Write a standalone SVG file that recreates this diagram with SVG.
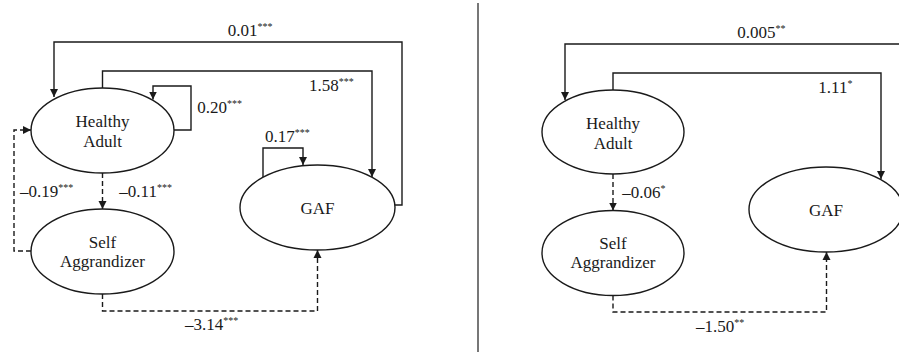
<svg xmlns="http://www.w3.org/2000/svg" width="899" height="352" viewBox="0 0 899 352">
<defs>
<marker id="ah" viewBox="0 0 10 10" refX="10" refY="5" markerWidth="8" markerHeight="9" markerUnits="userSpaceOnUse" orient="auto">
<path d="M0,0 L10,5 L0,10 z" fill="#1a1a1a"/>
</marker>
<style>
.node{fill:#fff;stroke:#1a1a1a;stroke-width:1.4}
.t{font-family:"Liberation Serif","Times New Roman",serif;font-size:17px;fill:#1a1a1a}
.c{text-anchor:middle}
.sup{font-size:10px}
.ln{fill:none;stroke:#1a1a1a;stroke-width:1.4;marker-end:url(#ah)}
.d{stroke-dasharray:5 3}
</style>
</defs>
<rect width="899" height="352" fill="#fff"/>
<line x1="478" y1="3" x2="478" y2="352" stroke="#555" stroke-width="1.6"/>
<g id="connectors">
<path class="ln" d="M395,205 H402 V42 H54 V97"/>
<path class="ln" d="M102.5,88 V71 H372 V177"/>
<path class="ln" d="M174,130 H191 V86 H153 V99.5"/>
<path class="ln" d="M263,177 V148 H303 V165"/>
<path class="ln d" d="M102.5,173 V209"/>
<path class="ln d" d="M31,251 H14 V130 H31"/>
<path class="ln d" d="M102.5,294 V311 H317.5 V250"/>
<path class="ln" d="M910,44 H565 V100"/>
<path class="ln" d="M613,90 V73 H881 V179"/>
<path class="ln d" d="M613,174 V210.5"/>
<path class="ln d" d="M613,295.5 V312 H826.5 V252"/>
</g>
<g id="labels" class="t">
<text x="227.7" y="36">0.01<tspan class="sup" dy="-6">***</tspan></text>
<text x="309" y="91">1.58<tspan class="sup" dy="-6">***</tspan></text>
<text x="197.3" y="113">0.20<tspan class="sup" dy="-6">***</tspan></text>
<text x="265" y="141.7">0.17<tspan class="sup" dy="-6">***</tspan></text>
<text x="20" y="196.7">–0.19<tspan class="sup" dy="-6">***</tspan></text>
<text x="119.3" y="196.7">–0.11<tspan class="sup" dy="-6">***</tspan></text>
<text x="185" y="330">–3.14<tspan class="sup" dy="-6">***</tspan></text>
<text x="737.3" y="37.7">0.005<tspan class="sup" dy="-6">**</tspan></text>
<text x="818.3" y="92.7">1.11<tspan class="sup" dy="-6">*</tspan></text>
<text x="622.3" y="198.3">–0.06<tspan class="sup" dy="-6">*</tspan></text>
<text x="696" y="331.7">–1.50<tspan class="sup" dy="-6">**</tspan></text>
</g>
<g id="ha1">
<ellipse class="node" cx="102.5" cy="130.5" rx="71.5" ry="42.5"/>
<text class="t c" x="102.5" y="127">Healthy</text>
<text class="t c" x="102.5" y="147">Adult</text>
</g>
<g id="sa1">
<ellipse class="node" cx="102.5" cy="251.5" rx="71.5" ry="42.5"/>
<text class="t c" x="102.5" y="247.7">Self</text>
<text class="t c" x="102.5" y="266.7">Aggrandizer</text>
</g>
<g id="gaf1">
<ellipse class="node" cx="317.5" cy="207.5" rx="77.5" ry="42.5"/>
<text class="t c" x="317.5" y="214">GAF</text>
</g>
<g id="ha2">
<ellipse class="node" cx="613" cy="132" rx="71" ry="42"/>
<text class="t c" x="613" y="128.5">Healthy</text>
<text class="t c" x="613" y="148.5">Adult</text>
</g>
<g id="sa2">
<ellipse class="node" cx="613" cy="253" rx="71" ry="42.5"/>
<text class="t c" x="613" y="249.2">Self</text>
<text class="t c" x="613" y="268.2">Aggrandizer</text>
</g>
<g id="gaf2">
<ellipse class="node" cx="826" cy="209.5" rx="77" ry="42.5"/>
<text class="t c" x="826" y="216">GAF</text>
</g>
</svg>
